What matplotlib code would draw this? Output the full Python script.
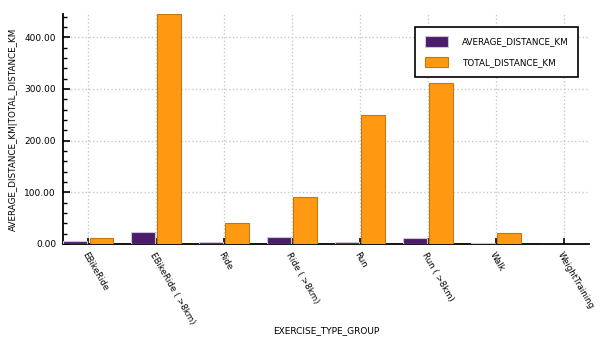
import numpy as np
import matplotlib
matplotlib.use('Agg')
import matplotlib.pyplot as plt
from matplotlib.ticker import MultipleLocator, FormatStrFormatter

plt.rcParams.update({'font.size': 6.5, 'font.family': 'DejaVu Sans'})

groups = ['EBikeRide', 'EBikeRide ( >8km)', 'Ride', 'Ride ( >8km)', 'Run',
          'Run ( >8km)', 'Walk', 'WeightTraining']
avg_km = [6.5, 23.5, 4.5, 13.0, 4.5, 11.0, 2.0, 0.0]
total_km = [12.0, 445.0, 40.5, 91.0, 249.0, 311.0, 20.5, 0.0]

c_avg = '#4a1c6b'
c_tot = '#ff9912'

fig = plt.figure(figsize=(6.03, 3.41), dpi=100)
ax = fig.add_axes([0.1045, 0.2845, 0.8725, 0.6745])

x = np.arange(len(groups))
w = 0.35
ax.bar(x - 0.195, avg_km, w, color=c_avg, edgecolor='#cfc4d6', lw=0.8,
       label='AVERAGE_DISTANCE_KM', zorder=3)
ax.bar(x + 0.195, total_km, w, color=c_tot, edgecolor='#c47610', lw=0.8,
       label='TOTAL_DISTANCE_KM', zorder=3)

ax.set_xlim(-0.37, len(groups) - 1 + 0.37)
ax.set_ylim(0, max(total_km))
ax.yaxis.set_major_locator(MultipleLocator(100))
ax.yaxis.set_minor_locator(MultipleLocator(20))
ax.yaxis.set_major_formatter(FormatStrFormatter('%.2f'))
ax.set_xticks(x)
ax.set_xticklabels(groups, rotation=-60, ha='left', va='top',
                   rotation_mode='anchor', fontsize=6.2)
ax.tick_params(axis='both', direction='in', width=1.2, color='black')
ax.tick_params(axis='y', which='major', length=5, pad=5)
ax.tick_params(axis='y', which='minor', length=3, width=1.0, direction='in')
ax.tick_params(axis='x', length=4, pad=5)

for s in ['top', 'right']:
    ax.spines[s].set_visible(False)
for s in ['left', 'bottom']:
    ax.spines[s].set_linewidth(1.3)

ax.grid(True, which='major', color='#c8c8c8', ls=':', lw=1.0, zorder=0)

ax.set_xlabel('EXERCISE_TYPE_GROUP', fontsize=6.5)
ax.xaxis.set_label_coords(0.5, -0.357)
ax.set_ylabel('AVERAGE_DISTANCE_KM|TOTAL_DISTANCE_KM', fontsize=6.3)
ax.yaxis.set_label_coords(-0.086, 0.5)

leg = ax.legend(loc='upper right', bbox_to_anchor=(0.979, 0.945), fancybox=False,
                framealpha=1, edgecolor='black', handlelength=2.6, handleheight=1.5,
                borderpad=1.1, labelspacing=1.1, handletextpad=1.6, borderaxespad=0,
                fontsize=6.3)
leg.get_frame().set_linewidth(1.2)

plt.savefig('out.png', dpi=100)
